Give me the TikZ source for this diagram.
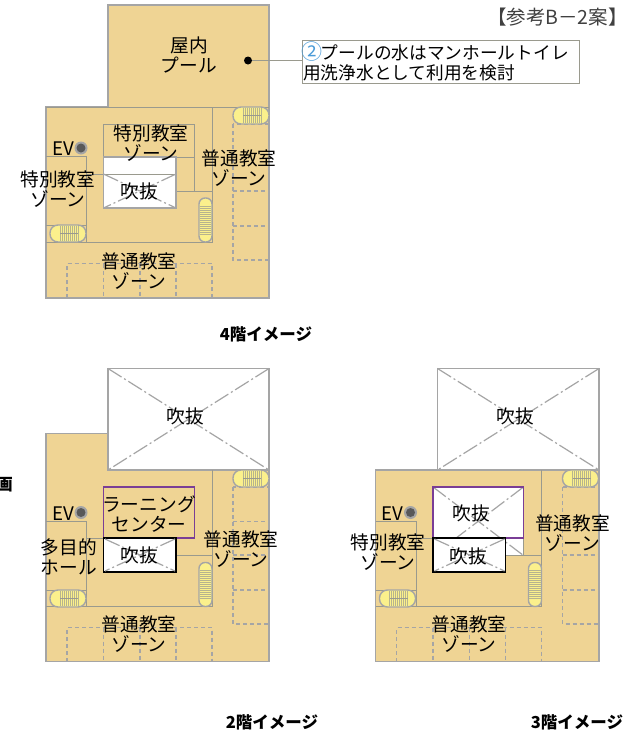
\documentclass[tikz,border=0pt]{standalone}
\usepackage{fontspec}
\setmainfont{Noto Sans CJK JP}
\definecolor{floorc}{HTML}{EFD494}
\definecolor{wallc}{HTML}{A5A5A5}
\definecolor{linec}{HTML}{9A9A8E}
\definecolor{stairc}{HTML}{FBF08C}
\definecolor{purpc}{HTML}{7A3E96}
\definecolor{bluec}{HTML}{4A9BD8}
\tikzset{
  x=1pt,y=-1pt,
  wall/.style={draw=wallc,line width=1.5pt},
  inner/.style={draw=linec,line width=0.9pt},
  dashline/.style={draw=wallc,line width=1.3pt,dash pattern=on 4pt off 3pt},
  crossline/.style={draw=wallc,line width=1.2pt,dash pattern=on 16pt off 3pt on 2pt off 3pt},
  lbl/.style={inner sep=0pt,font=\fontsize{18.7}{20}\selectfont,align=center,text=black},
  captext/.style={inner sep=0pt,font=\fontsize{16.5}{18}\selectfont\bfseries,text=black},
  pillh/.style={draw=wallc,line width=1.4pt,fill=stairc,rounded corners=8pt},
}
% horizontal stair: left x, top y
\newcommand{\stairH}[2]{%
  \begin{scope}[shift={(#1,#2)}]
    \draw[pillh] (0,0) rectangle (36,17);
    \foreach \i in {10,12,...,28}{\draw[linec!70!stairc,line width=0.5pt] (\i,0.8) -- (\i,16.2);}
    \draw[linec,line width=0.9pt] (10,8.5) -- (28,8.5);
  \end{scope}}
% vertical stair: left x, top y
\newcommand{\stairV}[2]{%
  \begin{scope}[shift={(#1,#2)}]
    \draw[draw=wallc,line width=1.4pt,fill=stairc,rounded corners=6pt] (0,0) rectangle (13,44);
    \foreach \i in {8,10,...,36}{\draw[linec!70!stairc,line width=0.5pt] (0.8,\i) -- (12.2,\i);}
  \end{scope}}
% atrium cross between corners
\newcommand{\crossbox}[4]{%
  \draw[crossline] (#1,#2) -- (#3,#4);
  \draw[crossline] (#3,#2) -- (#1,#4);}
\begin{document}
\begin{tikzpicture}
\useasboundingbox (0,0) rectangle (629,739);
\fill[white] (0,0) rectangle (629,739);

%%%%%%%%%%%%%%%% 4F
\filldraw[wall,fill=floorc] (108,5) -- (269,5) -- (269,298) -- (46,298) -- (46,107) -- (108,107) -- cycle;
\draw[dashline] (233,124) rectangle (269,260);
\draw[dashline] (233,191) -- (269,191);
\draw[dashline] (233,226) -- (269,226);
\draw[dashline] (67,298) -- (67,263.5) -- (212,263.5) -- (212,298);
\draw[dashline] (103.5,263.5) -- (103.5,298);
\draw[dashline] (140,263.5) -- (140,298);
\draw[dashline] (176,263.5) -- (176,298);
\draw[inner] (46,107) -- (269,107);
\draw[inner] (212,107) -- (212,242.5) -- (46,242.5);
\draw[inner] (176,191.5) -- (212,191.5);
\draw[inner] (103.5,157) -- (103.5,124.5) -- (194.5,124.5) -- (194.5,191.5);
\draw[inner] (103.5,157) -- (194.5,157);
\draw[inner] (46,156.5) -- (86.5,156.5) -- (86.5,242.5);
\draw[inner] (46,225) -- (86.5,225);
\draw[inner] (86.5,174) -- (176,174);
\filldraw[wall,fill=white] (103.5,157) rectangle (176,208);
\draw[inner] (103.5,174) -- (176,174);
\crossbox{103.5}{174}{176}{208}
\stairH{233}{107}\stairH{50}{225}\stairV{199}{198}
\fill[wallc] (81,148) circle (6.5);
\fill[gray!70!black] (81,148) circle (4.5);
\node[lbl] (fourEV) at (63,149) {EV};
\node[lbl] (fourPool) at (189,55) {屋内\\プール};
\node[lbl] (fourSpA) at (151,143) {特別教室\\ゾーン};
\node[lbl] (fourSpB) at (58,189) {特別教室\\ゾーン};
\node[lbl] (fourNmA) at (239,168) {普通教室\\ゾーン};
\node[lbl] (fourNmB) at (139,271) {普通教室\\ゾーン};
\node[lbl] (fourAt) at (139.5,191) {吹抜};
\node[captext] (fourCap) at (266,334) {4階イメージ};

%%%%%%%%%%%%%%%% Callout
\node[draw=linec,line width=0.8pt,fill=white,inner sep=0pt,minimum width=277pt,minimum height=42.5pt,anchor=north west] (note) at (302,40) {};
\node[inner sep=0pt,anchor=north west,align=left,font=\fontsize{17.7}{20.5}\selectfont] (noteText) at (303,41.5) {\makebox[17.7pt]{\fontsize{21}{20}\selectfont\textcolor{bluec}{②}}プールの水はマンホールトイレ\\用洗浄水として利用を検討};
\node[circle,fill=black,minimum size=8pt,inner sep=0pt] (dot) at (248,60.5) {};
\draw[linec,line width=0.9pt] (dot) -- (note.west |- dot);
\node[inner sep=0pt,font=\fontsize{19.5}{22}\selectfont,text=black!75] (title) at (557.5,17) {【参考B－2案】};

%%%%%%%%%%%%%%%% 2F
\filldraw[wall,fill=white] (108,368.5) rectangle (269,470);
\crossbox{108}{368.5}{269}{470}
\filldraw[wall,fill=floorc] (46,433.5) -- (108,433.5) -- (108,470) -- (269,470) -- (269,661.5) -- (46,661.5) -- cycle;
\draw[dashline] (233,487) rectangle (269,624);
\draw[dashline] (233,521.5) -- (269,521.5);
\draw[dashline] (233,555) -- (269,555);
\draw[dashline] (233,590) -- (269,590);
\draw[dashline] (67,661.5) -- (67,627.5) -- (212,627.5) -- (212,661.5);
\draw[dashline] (103.5,627.5) -- (103.5,661.5);
\draw[dashline] (140,627.5) -- (140,661.5);
\draw[dashline] (176,627.5) -- (176,661.5);
\draw[inner] (212,470) -- (212,606.5) -- (46,606.5);
\draw[inner] (176,555.5) -- (212,555.5);
\draw[inner] (46,521.5) -- (86.5,521.5) -- (86.5,606.5);
\draw[inner] (46,590) -- (86.5,590);
\draw[inner] (86.5,538) -- (103.5,538);
\draw[purpc,line width=1.2pt] (103.5,487) rectangle (194.5,538);
\filldraw[draw=black,line width=1.6pt,fill=white] (103.5,538) rectangle (176,572);
\crossbox{105}{539}{175}{571}
\stairH{233}{470}\stairH{50}{590}\stairV{199}{562.5}
\fill[wallc] (81,512.5) circle (6.5);
\fill[gray!70!black] (81,512.5) circle (4.5);
\node[lbl] (twoEV) at (63,513.5) {EV};
\node[lbl] (twoAtBig) at (185.5,416) {吹抜};
\node[lbl] (twoLC) at (149,514) {ラーニング\\センター};
\node[lbl] (twoAt) at (139.5,555) {吹抜};
\node[lbl] (twoHall) at (69,557) {多目的\\ホール};
\node[lbl] (twoNmA) at (241,549) {普通教室\\ゾーン};
\node[lbl] (twoNmB) at (139,634) {普通教室\\ゾーン};
\node[captext] (twoCap) at (272,722) {2階イメージ};
\node[captext,anchor=east] (cut) at (13,485) {画};

%%%%%%%%%%%%%%%% 3F
\filldraw[wall,fill=white] (437.5,368.5) rectangle (599,470);
\crossbox{437.5}{368.5}{599}{470}
\filldraw[wall,fill=floorc] (375.5,470) rectangle (599,661.5);
\draw[dashline] (562.5,487) rectangle (599,624);
\draw[dashline] (562.5,555) -- (599,555);
\draw[dashline] (562.5,590) -- (599,590);
\draw[dashline] (396.5,661.5) -- (396.5,627.5) -- (541.5,627.5) -- (541.5,661.5);
\draw[dashline] (433,627.5) -- (433,661.5);
\draw[dashline] (469.5,627.5) -- (469.5,661.5);
\draw[dashline] (505.5,627.5) -- (505.5,661.5);
\draw[inner] (541.5,470) -- (541.5,606.5) -- (375.5,606.5);
\draw[inner] (505.5,555.5) -- (541.5,555.5);
\draw[inner] (375.5,521.5) -- (416,521.5) -- (416,606.5);
\draw[inner] (375.5,590) -- (416,590);
\draw[inner] (416,538) -- (433,538);
\fill[white] (433,487) rectangle (523.5,555.5);
\draw[inner] (523.5,538) -- (523.5,555.5) -- (505.5,555.5);
\crossbox{433}{487}{523.5}{555.5}
\draw[purpc,line width=1.2pt] (433,487) rectangle (523.5,538);
\filldraw[draw=black,line width=1.6pt,fill=white] (433,538) rectangle (505.5,572);
\crossbox{434.5}{539}{504.5}{571}
\stairH{562.5}{470}\stairH{379.5}{590}\stairV{528.5}{562.5}
\fill[wallc] (410.5,512.5) circle (6.5);
\fill[gray!70!black] (410.5,512.5) circle (4.5);
\node[lbl] (thrEV) at (392.5,513.5) {EV};
\node[lbl] (thrAtBig) at (515,416) {吹抜};
\node[lbl] (thrAtA) at (471,513) {吹抜};
\node[lbl] (thrAt) at (468.5,556) {吹抜};
\node[lbl] (thrSp) at (388,552.5) {特別教室\\ゾーン};
\node[lbl] (thrNmA) at (572.5,533) {普通教室\\ゾーン};
\node[lbl] (thrNmB) at (469,634) {普通教室\\ゾーン};
\node[captext] (thrCap) at (577,722) {3階イメージ};
\end{tikzpicture}
\end{document}
